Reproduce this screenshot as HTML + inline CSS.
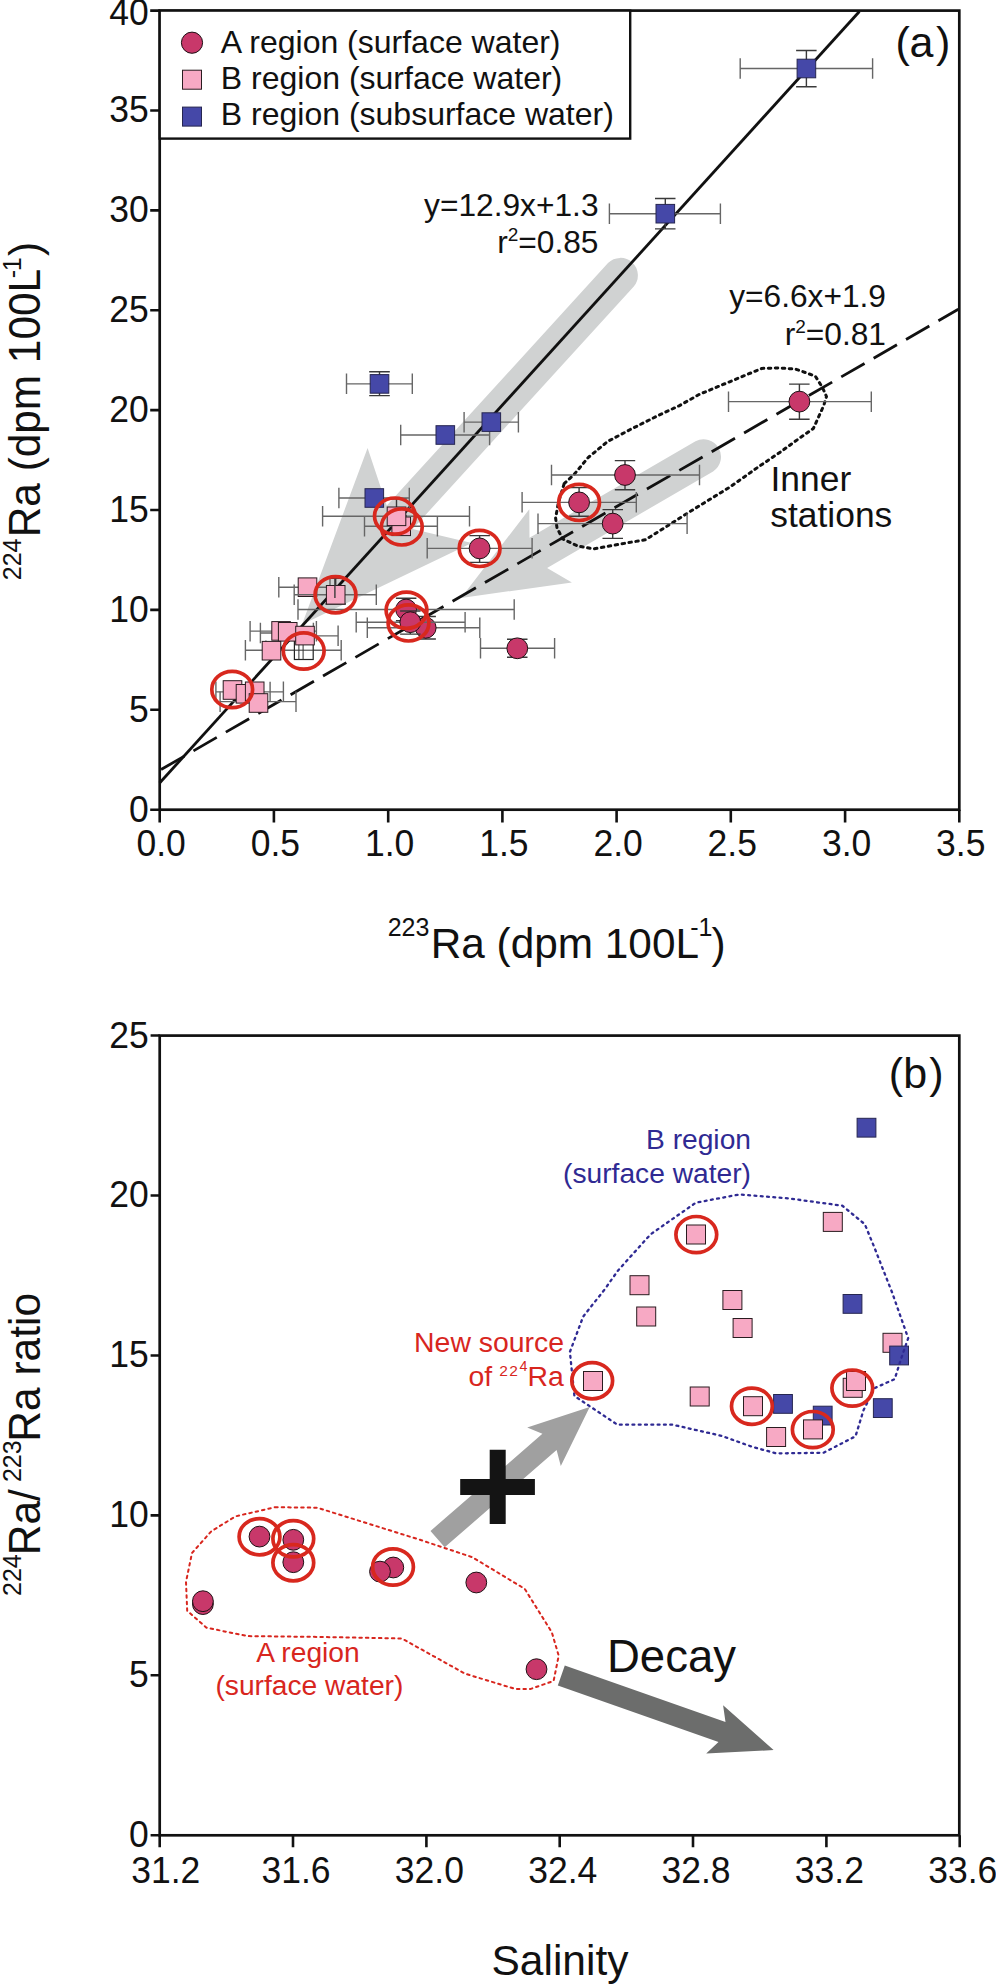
<!DOCTYPE html><html><head><meta charset="utf-8"><style>html,body{margin:0;padding:0;background:#fff;}svg{display:block;}</style></head><body><svg width="996" height="1985" viewBox="0 0 996 1985">
<rect width="996" height="1985" fill="#fff"/>
<path d="M302.0,624.4 L367.6,447.9 L386.8,505.5 L608.0,263.0 A17.5,17.5 0 0 1 633.8,286.6 L412.6,529.1 L471.8,542.9 Z" fill="#D0D2D2"/>
<path d="M461.0,598.0 L529.3,509.3 L529.5,537.8 L695.5,441.2 A17.5,17.5 0 0 1 713.1,471.4 L547.1,568.1 L571.9,582.4 Z" fill="#D0D2D2"/>
<path d="M564.2,483.6 L574.1,474.5 L588.1,457.6 L607.8,441.4 L630.3,429.5 L658.4,415.4 L679.5,405.6 L699.2,394.4 L728.1,382.4 L761.8,368.4 L778.7,367.9 L795.6,369.1 L815.3,376.1 L822.3,387.3 L826.5,396.5 L823.7,405.6 L816.7,421.1 L813.3,428.6 L800.3,437.6 L780.2,452.2 L760.1,465.7 L730.0,487.0 L690.0,511.6 L666.7,526.4 L645.6,539.7 L628.7,542.6 L593.6,548.9 L578.1,546.1 L562.7,539.0 L557.0,527.8 L555.6,518.0 L558.4,502.5 Z" fill="none" stroke="#111" stroke-width="3" stroke-dasharray="2.5 4.5" stroke-linecap="round" stroke-linejoin="round"/>
<line x1="159.6" y1="783" x2="859.4" y2="11.5" stroke="#111" stroke-width="2.8"/>
<line x1="159.6" y1="770.4" x2="958.3" y2="309.3" stroke="#111" stroke-width="2.8" stroke-dasharray="26.9 10.5" stroke-dashoffset="-1.7"/>
<path d="M215.9,691.9H283.4 M215.9,681.6V702.1 M283.4,681.6V702.1" stroke="#666" stroke-width="1.4" fill="none"/>
<path d="M220.1,701.6H296.0 M220.1,691.4V711.9 M296.0,691.4V711.9" stroke="#666" stroke-width="1.4" fill="none"/>
<path d="M250.1,631.1H316.4 M250.1,620.9V641.4 M316.4,620.9V641.4" stroke="#666" stroke-width="1.4" fill="none"/>
<path d="M260.4,633.0H313.4 M260.4,622.8V643.2 M313.4,622.8V643.2" stroke="#666" stroke-width="1.4" fill="none"/>
<path d="M280.0,635.9H338.1 M280.0,625.6V646.1 M338.1,625.6V646.1" stroke="#666" stroke-width="1.4" fill="none"/>
<path d="M245.4,650.3H341.2 M245.4,640.0V660.5 M341.2,640.0V660.5" stroke="#666" stroke-width="1.4" fill="none"/>
<path d="M270.1,681.7V702.1M265.9,640.5V660" stroke="#666" stroke-width="1.4"/>
<rect x="294.4" y="640.9" width="18.8" height="18.6" fill="#fff" stroke="#222" stroke-width="1.2"/>
<path d="M298.9,640.9V659.5M303.1,640.9V659.5M294.4,650.2H313.2" stroke="#333" stroke-width="1"/>

<rect x="223.2" y="680.7" width="18.6" height="18.6" fill="#F7A9C4" stroke="#2a1c20" stroke-width="1"/>

<rect x="236.2" y="684.5" width="18.6" height="18.6" fill="#F7A9C4" stroke="#2a1c20" stroke-width="1"/>

<rect x="245.4" y="682.0" width="18.6" height="18.6" fill="#F7A9C4" stroke="#2a1c20" stroke-width="1"/>

<rect x="249.2" y="693.7" width="18.6" height="18.6" fill="#F7A9C4" stroke="#2a1c20" stroke-width="1"/>

<rect x="271.8" y="621.6" width="18.6" height="18.6" fill="#F7A9C4" stroke="#2a1c20" stroke-width="1"/>

<rect x="278.4" y="622.5" width="18.6" height="18.6" fill="#F7A9C4" stroke="#2a1c20" stroke-width="1"/>

<rect x="295.7" y="626.3" width="18.6" height="18.6" fill="#F7A9C4" stroke="#2a1c20" stroke-width="1"/>

<rect x="262.2" y="641.4" width="18.6" height="18.6" fill="#F7A9C4" stroke="#2a1c20" stroke-width="1"/>
<path d="M278.8,587.2H330.0 M278.8,577.0V597.5 M330.0,577.0V597.5" stroke="#666" stroke-width="1.4" fill="none"/>
<rect x="298.2" y="577.9" width="18.6" height="18.6" fill="#F7A9C4" stroke="#2a1c20" stroke-width="1"/>
<path d="M294.2,594.8H376.3 M294.2,584.5V605.0 M376.3,584.5V605.0" stroke="#666" stroke-width="1.4" fill="none"/><path d="M335.7,578.4V604.0 M325.4,578.4H345.9 M325.4,604.0H345.9" stroke="#3a3a3a" stroke-width="1.4" fill="none"/>
<rect x="326.4" y="585.5" width="18.6" height="18.6" fill="#F7A9C4" stroke="#2a1c20" stroke-width="1"/>
<path d="M364.5,526.3H437.4 M364.5,516.0V536.5 M437.4,516.0V536.5" stroke="#666" stroke-width="1.4" fill="none"/>
<rect x="391.9" y="517.0" width="18.6" height="18.6" fill="#F7A9C4" stroke="#2a1c20" stroke-width="1"/>
<path d="M322.6,516.3H469.5 M322.6,506.0V526.5 M469.5,506.0V526.5" stroke="#666" stroke-width="1.4" fill="none"/><path d="M396.5,498.9V516.0 M386.2,498.9H406.8 M386.2,516.0H406.8" stroke="#3a3a3a" stroke-width="1.4" fill="none"/>
<rect x="387.2" y="507.0" width="18.6" height="18.6" fill="#F7A9C4" stroke="#2a1c20" stroke-width="1"/>
<path d="M334.9,578.4V598" stroke="#3a3a3a" stroke-width="1.4"/>
<path d="M740.2,68.5H872.6 M740.2,58.2V78.8 M872.6,58.2V78.8" stroke="#666" stroke-width="1.4" fill="none"/><path d="M806.4,50.5V86.7 M796.1,50.5H816.6 M796.1,86.7H816.6" stroke="#3a3a3a" stroke-width="1.4" fill="none"/>
<rect x="797.1" y="59.2" width="18.6" height="18.6" fill="#4548A8" stroke="#262650" stroke-width="1"/>
<path d="M609.4,213.7H720.4 M609.4,203.4V223.9 M720.4,203.4V223.9" stroke="#666" stroke-width="1.4" fill="none"/><path d="M665.3,198.5V228.9 M655.0,198.5H675.5 M655.0,228.9H675.5" stroke="#3a3a3a" stroke-width="1.4" fill="none"/>
<rect x="656.0" y="204.4" width="18.6" height="18.6" fill="#4548A8" stroke="#262650" stroke-width="1"/>
<path d="M346.5,383.9H412.3 M346.5,373.6V394.1 M412.3,373.6V394.1" stroke="#666" stroke-width="1.4" fill="none"/><path d="M379.5,371.7V395.6 M369.2,371.7H389.8 M369.2,395.6H389.8" stroke="#3a3a3a" stroke-width="1.4" fill="none"/>
<rect x="370.2" y="374.6" width="18.6" height="18.6" fill="#4548A8" stroke="#262650" stroke-width="1"/>
<path d="M400.7,435.0H489.6 M400.7,424.8V445.2 M489.6,424.8V445.2" stroke="#666" stroke-width="1.4" fill="none"/>
<rect x="436.0" y="425.7" width="18.6" height="18.6" fill="#4548A8" stroke="#262650" stroke-width="1"/>
<path d="M464.1,422.1H518.4 M464.1,411.9V432.4 M518.4,411.9V432.4" stroke="#666" stroke-width="1.4" fill="none"/>
<rect x="482.0" y="412.8" width="18.6" height="18.6" fill="#4548A8" stroke="#262650" stroke-width="1"/>
<path d="M338.9,498.0H409.3 M338.9,487.8V508.2 M409.3,487.8V508.2" stroke="#666" stroke-width="1.4" fill="none"/>
<rect x="365.0" y="488.7" width="18.6" height="18.6" fill="#4548A8" stroke="#262650" stroke-width="1"/>
<path d="M728.5,401.6H871.3 M728.5,391.4V411.9 M871.3,391.4V411.9" stroke="#666" stroke-width="1.4" fill="none"/><path d="M799.4,384.1V419.3 M789.1,384.1H809.6 M789.1,419.3H809.6" stroke="#3a3a3a" stroke-width="1.4" fill="none"/>
<circle cx="799.4" cy="401.6" r="10.4" fill="#C8386A" stroke="#1e1014" stroke-width="1"/>
<path d="M551.5,475.0H699.5 M551.5,464.8V485.2 M699.5,464.8V485.2" stroke="#666" stroke-width="1.4" fill="none"/><path d="M625.0,460.6V489.8 M614.8,460.6H635.2 M614.8,489.8H635.2" stroke="#3a3a3a" stroke-width="1.4" fill="none"/>
<circle cx="625.0" cy="475.0" r="10.4" fill="#C8386A" stroke="#1e1014" stroke-width="1"/>
<path d="M522.1,502.4H636.3 M522.1,492.1V512.6 M636.3,492.1V512.6" stroke="#666" stroke-width="1.4" fill="none"/><path d="M579.1,487.6V516.3 M568.9,487.6H589.4 M568.9,516.3H589.4" stroke="#3a3a3a" stroke-width="1.4" fill="none"/>
<circle cx="579.1" cy="502.4" r="10.4" fill="#C8386A" stroke="#1e1014" stroke-width="1"/>
<path d="M538.0,523.6H687.1 M538.0,513.4V533.9 M687.1,513.4V533.9" stroke="#666" stroke-width="1.4" fill="none"/><path d="M612.7,509.6V538.4 M602.5,509.6H623.0 M602.5,538.4H623.0" stroke="#3a3a3a" stroke-width="1.4" fill="none"/>
<circle cx="612.7" cy="523.6" r="10.4" fill="#C8386A" stroke="#1e1014" stroke-width="1"/>
<path d="M427.2,548.4H532.1 M427.2,538.1V558.6 M532.1,538.1V558.6" stroke="#666" stroke-width="1.4" fill="none"/><path d="M479.6,535.6V562.4 M469.4,535.6H489.9 M469.4,562.4H489.9" stroke="#3a3a3a" stroke-width="1.4" fill="none"/>
<circle cx="479.6" cy="548.4" r="10.4" fill="#C8386A" stroke="#1e1014" stroke-width="1"/>
<path d="M367.3,627.8H479.8 M367.3,617.5V638.0 M479.8,617.5V638.0" stroke="#666" stroke-width="1.4" fill="none"/><path d="M425.7,616.5V639.0 M415.4,616.5H435.9 M415.4,639.0H435.9" stroke="#3a3a3a" stroke-width="1.4" fill="none"/>
<circle cx="425.7" cy="627.8" r="10.4" fill="#C8386A" stroke="#1e1014" stroke-width="1"/>
<path d="M298.0,609.5H514.2 M298.0,599.2V619.8 M514.2,599.2V619.8" stroke="#666" stroke-width="1.4" fill="none"/><path d="M406.1,598.3V620.7 M395.9,598.3H416.4 M395.9,620.7H416.4" stroke="#3a3a3a" stroke-width="1.4" fill="none"/>
<circle cx="406.1" cy="609.5" r="10.4" fill="#C8386A" stroke="#1e1014" stroke-width="1"/>
<path d="M356.2,622.2H465.1 M356.2,612.0V632.5 M465.1,612.0V632.5" stroke="#666" stroke-width="1.4" fill="none"/><path d="M410.3,611.0V634.1 M400.1,611.0H420.6 M400.1,634.1H420.6" stroke="#3a3a3a" stroke-width="1.4" fill="none"/>
<circle cx="410.3" cy="622.2" r="10.4" fill="#C8386A" stroke="#1e1014" stroke-width="1"/>
<path d="M480.5,648.3H554.6 M480.5,638.0V658.5 M554.6,638.0V658.5" stroke="#666" stroke-width="1.4" fill="none"/><path d="M517.3,639.3V657.3 M507.0,639.3H527.5 M507.0,657.3H527.5" stroke="#3a3a3a" stroke-width="1.4" fill="none"/>
<circle cx="517.3" cy="648.3" r="10.4" fill="#C8386A" stroke="#1e1014" stroke-width="1"/>
<ellipse cx="394.9" cy="516.1" rx="20.4" ry="18.1" fill="none" stroke="#D8281E" stroke-width="3.7"/>
<ellipse cx="401.8" cy="526.9" rx="20.4" ry="18.1" fill="none" stroke="#D8281E" stroke-width="3.7"/>
<ellipse cx="579.1" cy="502.4" rx="20.4" ry="18.1" fill="none" stroke="#D8281E" stroke-width="3.7"/>
<ellipse cx="479.6" cy="548.4" rx="20.4" ry="18.1" fill="none" stroke="#D8281E" stroke-width="3.7"/>
<ellipse cx="406.5" cy="610.2" rx="20.4" ry="18.1" fill="none" stroke="#D8281E" stroke-width="3.7"/>
<ellipse cx="408.5" cy="622.9" rx="20.4" ry="18.1" fill="none" stroke="#D8281E" stroke-width="3.7"/>
<ellipse cx="335.5" cy="594.7" rx="20.4" ry="18.1" fill="none" stroke="#D8281E" stroke-width="3.7"/>
<ellipse cx="303.7" cy="651.0" rx="20.4" ry="18.1" fill="none" stroke="#D8281E" stroke-width="3.7"/>
<ellipse cx="232.2" cy="689.5" rx="20.4" ry="18.1" fill="none" stroke="#D8281E" stroke-width="3.7"/>
<rect x="159.7" y="10.6" width="799.6" height="799.1" fill="none" stroke="#111" stroke-width="2.7"/>
<rect x="159.7" y="10.6" width="470.5" height="128" fill="#fff" stroke="#111" stroke-width="2.4"/>
<circle cx="192.0" cy="42.7" r="10.6" fill="#C8386A" stroke="#1e1014" stroke-width="1"/>
<rect x="182.5" y="70.2" width="19.0" height="19.0" fill="#F7A9C4" stroke="#2a1c20" stroke-width="1"/>
<rect x="182.5" y="107.1" width="19.0" height="19.0" fill="#4548A8" stroke="#262650" stroke-width="1"/>
<text x="220.8" y="53.3" font-family="Liberation Sans, sans-serif" font-size="32" fill="#111">A region (surface water)</text>
<text x="220.8" y="89.3" font-family="Liberation Sans, sans-serif" font-size="32" fill="#111">B region (surface water)</text>
<text x="220.8" y="125.3" font-family="Liberation Sans, sans-serif" font-size="32" fill="#111">B region (subsurface water)</text>
<path d="M150.2,809.7H159.7 M150.2,709.8H159.7 M150.2,609.9H159.7 M150.2,510.0H159.7 M150.2,410.1H159.7 M150.2,310.2H159.7 M150.2,210.4H159.7 M150.2,110.5H159.7 M150.2,10.6H159.7 M159.7,809.7V822.5 M273.9,809.7V822.5 M388.2,809.7V822.5 M502.4,809.7V822.5 M616.6,809.7V822.5 M730.8,809.7V822.5 M845.1,809.7V822.5 M959.3,809.7V822.5" stroke="#111" stroke-width="2.6"/>
<text x="148.8" y="0" transform="translate(0,821.6) scale(1,1.05)" font-family="Liberation Sans, sans-serif" font-size="35.5" text-anchor="end" fill="#111">0</text>
<text x="148.8" y="0" transform="translate(0,721.7) scale(1,1.05)" font-family="Liberation Sans, sans-serif" font-size="35.5" text-anchor="end" fill="#111">5</text>
<text x="148.8" y="0" transform="translate(0,621.8) scale(1,1.05)" font-family="Liberation Sans, sans-serif" font-size="35.5" text-anchor="end" fill="#111">10</text>
<text x="148.8" y="0" transform="translate(0,521.9) scale(1,1.05)" font-family="Liberation Sans, sans-serif" font-size="35.5" text-anchor="end" fill="#111">15</text>
<text x="148.8" y="0" transform="translate(0,422.0) scale(1,1.05)" font-family="Liberation Sans, sans-serif" font-size="35.5" text-anchor="end" fill="#111">20</text>
<text x="148.8" y="0" transform="translate(0,322.1) scale(1,1.05)" font-family="Liberation Sans, sans-serif" font-size="35.5" text-anchor="end" fill="#111">25</text>
<text x="148.8" y="0" transform="translate(0,222.3) scale(1,1.05)" font-family="Liberation Sans, sans-serif" font-size="35.5" text-anchor="end" fill="#111">30</text>
<text x="148.8" y="0" transform="translate(0,122.4) scale(1,1.05)" font-family="Liberation Sans, sans-serif" font-size="35.5" text-anchor="end" fill="#111">35</text>
<text x="148.8" y="0" transform="translate(0,24.9) scale(1,1.05)" font-family="Liberation Sans, sans-serif" font-size="35.5" text-anchor="end" fill="#111">40</text>
<text x="161.2" y="0" transform="translate(0,855.6) scale(1,1.05)" font-family="Liberation Sans, sans-serif" font-size="35.5" text-anchor="middle" fill="#111">0.0</text>
<text x="275.4" y="0" transform="translate(0,855.6) scale(1,1.05)" font-family="Liberation Sans, sans-serif" font-size="35.5" text-anchor="middle" fill="#111">0.5</text>
<text x="389.7" y="0" transform="translate(0,855.6) scale(1,1.05)" font-family="Liberation Sans, sans-serif" font-size="35.5" text-anchor="middle" fill="#111">1.0</text>
<text x="503.9" y="0" transform="translate(0,855.6) scale(1,1.05)" font-family="Liberation Sans, sans-serif" font-size="35.5" text-anchor="middle" fill="#111">1.5</text>
<text x="618.1" y="0" transform="translate(0,855.6) scale(1,1.05)" font-family="Liberation Sans, sans-serif" font-size="35.5" text-anchor="middle" fill="#111">2.0</text>
<text x="732.3" y="0" transform="translate(0,855.6) scale(1,1.05)" font-family="Liberation Sans, sans-serif" font-size="35.5" text-anchor="middle" fill="#111">2.5</text>
<text x="846.6" y="0" transform="translate(0,855.6) scale(1,1.05)" font-family="Liberation Sans, sans-serif" font-size="35.5" text-anchor="middle" fill="#111">3.0</text>
<text x="960.8" y="0" transform="translate(0,855.6) scale(1,1.05)" font-family="Liberation Sans, sans-serif" font-size="35.5" text-anchor="middle" fill="#111">3.5</text>
<g font-family="Liberation Sans, sans-serif" font-size="43" fill="#111"><text x="895.43" y="57">(</text><text x="909.47" y="57">a</text><text x="935.95" y="57">)</text></g>
<text x="598.5" y="215.7" font-family="Liberation Sans, sans-serif" font-size="31.7" text-anchor="end" fill="#111">y=12.9x+1.3</text>
<text x="598.5" y="252.7" font-family="Liberation Sans, sans-serif" font-size="31.7" text-anchor="end" fill="#111">r<tspan font-size="19" dy="-12">2</tspan><tspan dy="12">=0.85</tspan></text>
<text x="886" y="306.6" font-family="Liberation Sans, sans-serif" font-size="31.7" text-anchor="end" fill="#111">y=6.6x+1.9</text>
<text x="886" y="344.6" font-family="Liberation Sans, sans-serif" font-size="31.7" text-anchor="end" fill="#111">r<tspan font-size="19" dy="-12">2</tspan><tspan dy="12">=0.81</tspan></text>
<text x="770.5" y="491.3" font-family="Liberation Sans, sans-serif" font-size="35.4" fill="#111">Inner</text>
<text x="770.3" y="527.3" font-family="Liberation Sans, sans-serif" font-size="35.4" fill="#111">stations</text>
<g font-family="Liberation Sans, sans-serif" fill="#111"><text x="387.7" y="936" font-size="25">223</text><text x="430.7" y="957.5" font-size="42.35">Ra (dpm 100L</text><text x="690.3" y="936" font-size="25">-</text><text x="698.5" y="936" font-size="25">1</text><text x="711.55" y="957.5" font-size="42.35">)</text></g>
<g transform="translate(40,580.2) rotate(-90) scale(1,1.035)" font-family="Liberation Sans, sans-serif" fill="#111"><text x="0" y="-18.3" font-size="25">224</text><text x="43" y="0" font-size="42.35">Ra (dpm 100L</text><text x="302" y="-18.3" font-size="25">-</text><text x="309" y="-18.3" font-size="25">1</text><text x="324.15" y="0" font-size="42.35">)</text></g>
<path d="M589.7,1407.1 L560.8,1466.1 L556.6,1450.1 L444.7,1547.3 L430.5,1530.9 L542.4,1433.8 L527.2,1427.4 Z" fill="#A0A0A0"/>
<path d="M773.6,1750.1 L706.2,1753.4 L718.5,1741.9 L557.8,1685.4 L564.8,1665.5 L725.5,1722.0 L723.1,1705.3 Z" fill="#6C6D6C"/>
<path d="M489.7,1449.8h16v29.2h29.2v16h-29.2v29.1h-16v-29.1h-29.5v-16h29.5z" fill="#141414"/>
<rect x="686.5" y="1225.0" width="19.0" height="19.0" fill="#F7A9C4" stroke="#2a1c20" stroke-width="1"/>
<rect x="823.3" y="1212.4" width="19.0" height="19.0" fill="#F7A9C4" stroke="#2a1c20" stroke-width="1"/>
<rect x="630.0" y="1275.7" width="19.0" height="19.0" fill="#F7A9C4" stroke="#2a1c20" stroke-width="1"/>
<rect x="636.7" y="1307.0" width="19.0" height="19.0" fill="#F7A9C4" stroke="#2a1c20" stroke-width="1"/>
<rect x="722.9" y="1290.5" width="19.0" height="19.0" fill="#F7A9C4" stroke="#2a1c20" stroke-width="1"/>
<rect x="733.1" y="1318.5" width="19.0" height="19.0" fill="#F7A9C4" stroke="#2a1c20" stroke-width="1"/>
<rect x="883.0" y="1333.3" width="19.0" height="19.0" fill="#F7A9C4" stroke="#2a1c20" stroke-width="1"/>
<rect x="583.5" y="1371.5" width="19.0" height="19.0" fill="#F7A9C4" stroke="#2a1c20" stroke-width="1"/>
<rect x="690.2" y="1387.0" width="19.0" height="19.0" fill="#F7A9C4" stroke="#2a1c20" stroke-width="1"/>
<rect x="743.5" y="1396.7" width="19.0" height="19.0" fill="#F7A9C4" stroke="#2a1c20" stroke-width="1"/>
<rect x="766.6" y="1427.5" width="19.0" height="19.0" fill="#F7A9C4" stroke="#2a1c20" stroke-width="1"/>
<rect x="843.2" y="1378.3" width="19.0" height="19.0" fill="#F7A9C4" stroke="#2a1c20" stroke-width="1"/>
<rect x="846.5" y="1371.5" width="19.0" height="19.0" fill="#F7A9C4" stroke="#2a1c20" stroke-width="1"/>
<rect x="857.1" y="1118.3" width="18.8" height="18.8" fill="#4548A8" stroke="#262650" stroke-width="1"/>
<rect x="843.1" y="1294.5" width="18.8" height="18.8" fill="#4548A8" stroke="#262650" stroke-width="1"/>
<rect x="889.7" y="1346.1" width="18.8" height="18.8" fill="#4548A8" stroke="#262650" stroke-width="1"/>
<rect x="773.6" y="1394.5" width="18.8" height="18.8" fill="#4548A8" stroke="#262650" stroke-width="1"/>
<rect x="813.3" y="1406.2" width="18.8" height="18.8" fill="#4548A8" stroke="#262650" stroke-width="1"/>
<rect x="873.4" y="1398.7" width="18.8" height="18.8" fill="#4548A8" stroke="#262650" stroke-width="1"/>
<rect x="803.5" y="1419.9" width="19.0" height="19.0" fill="#F7A9C4" stroke="#2a1c20" stroke-width="1"/>
<path d="M604.2,1290.0 L583.2,1316.5 L569.9,1351.9 L574.4,1396.0 L617.4,1424.7 L672.7,1424.7 L721.3,1435.8 L752.2,1446.8 L776.2,1453.4 L823.4,1452.8 L855.5,1436.3 L863.5,1410.2 L874.6,1388.1 L894.7,1379.1 L900.7,1360.0 L908.2,1338.2 L892.1,1292.5 L874.4,1247.5 L864.8,1224.2 L842.3,1205.7 L789.3,1198.5 L739.2,1194.5 L695.8,1202.7 L650.6,1234.3 L618.1,1270.4 Z" fill="none" stroke="#2F2A93" stroke-width="2.3" stroke-dasharray="1.9 4.4" stroke-linecap="round" stroke-linejoin="round"/>
<ellipse cx="696.3" cy="1234.6" rx="20.4" ry="18.1" fill="none" stroke="#D8281E" stroke-width="3.7"/>
<ellipse cx="592.2" cy="1380.7" rx="20.4" ry="18.1" fill="none" stroke="#D8281E" stroke-width="3.7"/>
<ellipse cx="751.9" cy="1406.2" rx="20.4" ry="18.1" fill="none" stroke="#D8281E" stroke-width="3.7"/>
<ellipse cx="812.8" cy="1429.6" rx="20.4" ry="18.1" fill="none" stroke="#D8281E" stroke-width="3.7"/>
<ellipse cx="852.3" cy="1388.1" rx="20.4" ry="18.1" fill="none" stroke="#D8281E" stroke-width="3.7"/>
<circle cx="202.9" cy="1604.1" r="10.4" fill="#C8386A" stroke="#1e1014" stroke-width="1"/>
<circle cx="202.9" cy="1601.2" r="10.4" fill="#C8386A" stroke="#1e1014" stroke-width="1"/>
<circle cx="259.5" cy="1536.6" r="10.4" fill="#C8386A" stroke="#1e1014" stroke-width="1"/>
<circle cx="293.3" cy="1539.8" r="10.4" fill="#C8386A" stroke="#1e1014" stroke-width="1"/>
<circle cx="293.3" cy="1562.2" r="10.4" fill="#C8386A" stroke="#1e1014" stroke-width="1"/>
<circle cx="393.3" cy="1567.5" r="10.4" fill="#C8386A" stroke="#1e1014" stroke-width="1"/>
<circle cx="380.0" cy="1571.6" r="10.4" fill="#C8386A" stroke="#1e1014" stroke-width="1"/>
<circle cx="476.3" cy="1582.5" r="10.4" fill="#C8386A" stroke="#1e1014" stroke-width="1"/>
<circle cx="536.5" cy="1669.2" r="10.4" fill="#C8386A" stroke="#1e1014" stroke-width="1"/>
<path d="M275.2,1507.2 L317.3,1507.7 L420.0,1539.8 L472.3,1557.2 L524.7,1588.8 L551.8,1632.2 L558.7,1655.7 L553.6,1681.0 L530.1,1689.1 L515.7,1689.1 L465.1,1673.7 L401.8,1638.5 L317.3,1636.9 L247.5,1636.1 L206.5,1627.7 L187.2,1610.8 L186.0,1581.9 L192.0,1553.0 L211.3,1531.3 L235.4,1516.4 Z" fill="none" stroke="#D8261E" stroke-width="2.0" stroke-dasharray="2.5 4.0" stroke-linecap="round" stroke-linejoin="round"/>
<ellipse cx="259.5" cy="1536.7" rx="20.4" ry="18.1" fill="none" stroke="#D8281E" stroke-width="3.7"/>
<ellipse cx="293.3" cy="1538.8" rx="20.4" ry="18.1" fill="none" stroke="#D8281E" stroke-width="3.7"/>
<ellipse cx="293.3" cy="1562.7" rx="20.4" ry="18.1" fill="none" stroke="#D8281E" stroke-width="3.7"/>
<ellipse cx="393.0" cy="1567.0" rx="20.4" ry="18.1" fill="none" stroke="#D8281E" stroke-width="3.7"/>
<rect x="159.7" y="1035.6" width="799.6" height="799.7" fill="none" stroke="#111" stroke-width="2.7"/>
<path d="M150.6,1835.3H159.7 M150.6,1675.3H159.7 M150.6,1515.4H159.7 M150.6,1355.5H159.7 M150.6,1195.5H159.7 M150.6,1035.5H159.7 M159.7,1835.3V1847.3 M293.0,1835.3V1847.3 M426.4,1835.3V1847.3 M559.7,1835.3V1847.3 M693.0,1835.3V1847.3 M826.4,1835.3V1847.3 M959.7,1835.3V1847.3" stroke="#111" stroke-width="2.6"/>
<text x="148.8" y="0" transform="translate(0,1847.2) scale(1,1.05)" font-family="Liberation Sans, sans-serif" font-size="35.5" text-anchor="end" fill="#111">0</text>
<text x="148.8" y="0" transform="translate(0,1687.2) scale(1,1.05)" font-family="Liberation Sans, sans-serif" font-size="35.5" text-anchor="end" fill="#111">5</text>
<text x="148.8" y="0" transform="translate(0,1527.3) scale(1,1.05)" font-family="Liberation Sans, sans-serif" font-size="35.5" text-anchor="end" fill="#111">10</text>
<text x="148.8" y="0" transform="translate(0,1367.4) scale(1,1.05)" font-family="Liberation Sans, sans-serif" font-size="35.5" text-anchor="end" fill="#111">15</text>
<text x="148.8" y="0" transform="translate(0,1207.4) scale(1,1.05)" font-family="Liberation Sans, sans-serif" font-size="35.5" text-anchor="end" fill="#111">20</text>
<text x="148.8" y="0" transform="translate(0,1047.5) scale(1,1.05)" font-family="Liberation Sans, sans-serif" font-size="35.5" text-anchor="end" fill="#111">25</text>
<text x="165.7" y="0" transform="translate(0,1882.9) scale(1,1.05)" font-family="Liberation Sans, sans-serif" font-size="35.5" text-anchor="middle" fill="#111">31.2</text>
<text x="296.0" y="0" transform="translate(0,1882.9) scale(1,1.05)" font-family="Liberation Sans, sans-serif" font-size="35.5" text-anchor="middle" fill="#111">31.6</text>
<text x="429.4" y="0" transform="translate(0,1882.9) scale(1,1.05)" font-family="Liberation Sans, sans-serif" font-size="35.5" text-anchor="middle" fill="#111">32.0</text>
<text x="562.7" y="0" transform="translate(0,1882.9) scale(1,1.05)" font-family="Liberation Sans, sans-serif" font-size="35.5" text-anchor="middle" fill="#111">32.4</text>
<text x="696.0" y="0" transform="translate(0,1882.9) scale(1,1.05)" font-family="Liberation Sans, sans-serif" font-size="35.5" text-anchor="middle" fill="#111">32.8</text>
<text x="829.4" y="0" transform="translate(0,1882.9) scale(1,1.05)" font-family="Liberation Sans, sans-serif" font-size="35.5" text-anchor="middle" fill="#111">33.2</text>
<text x="962.7" y="0" transform="translate(0,1882.9) scale(1,1.05)" font-family="Liberation Sans, sans-serif" font-size="35.5" text-anchor="middle" fill="#111">33.6</text>
<g font-family="Liberation Sans, sans-serif" font-size="43" fill="#111"><text x="888.73" y="1088.3">(</text><text x="903.13" y="1088.3">b</text><text x="929.35" y="1088.3">)</text></g>
<text x="751" y="1149.2" font-family="Liberation Sans, sans-serif" font-size="28.2" text-anchor="end" fill="#2F2A93">B region</text>
<text x="751" y="1183.4" font-family="Liberation Sans, sans-serif" font-size="28.2" text-anchor="end" fill="#2F2A93">(surface water)</text>
<text x="564" y="1351.5" font-family="Liberation Sans, sans-serif" font-size="28.4" text-anchor="end" fill="#D8261E">New source</text>
<g font-family="Liberation Sans, sans-serif" fill="#D8261E"><text x="468.4" y="1385.5" font-size="28.4">of</text><text x="499.2" y="1376" font-size="15.5" letter-spacing="1.5">22</text><text x="519.4" y="1370.7" font-size="14.3">4</text><text x="527.6" y="1385.7" font-size="28.4">Ra</text></g>
<text x="308" y="1662" font-family="Liberation Sans, sans-serif" font-size="28.2" text-anchor="middle" fill="#D8261E">A region</text>
<text x="309.4" y="1695" font-family="Liberation Sans, sans-serif" font-size="28.2" text-anchor="middle" fill="#D8261E">(surface water)</text>
<text x="607" y="1671.8" font-family="Liberation Sans, sans-serif" font-size="45.5" fill="#111">Decay</text>
<text x="560" y="1975.4" font-family="Liberation Sans, sans-serif" font-size="42.5" text-anchor="middle" fill="#111">Salinity</text>
<g transform="translate(40,1596) rotate(-90) scale(1,1.035)" font-family="Liberation Sans, sans-serif" fill="#111"><text x="0" y="-18.3" font-size="25">224</text><text x="40.7" y="0" font-size="42.5">Ra/</text><text x="113.9" y="-18.3" font-size="25">223</text><text x="154.3" y="0" font-size="42.5">Ra ratio</text></g>
</svg></body></html>
